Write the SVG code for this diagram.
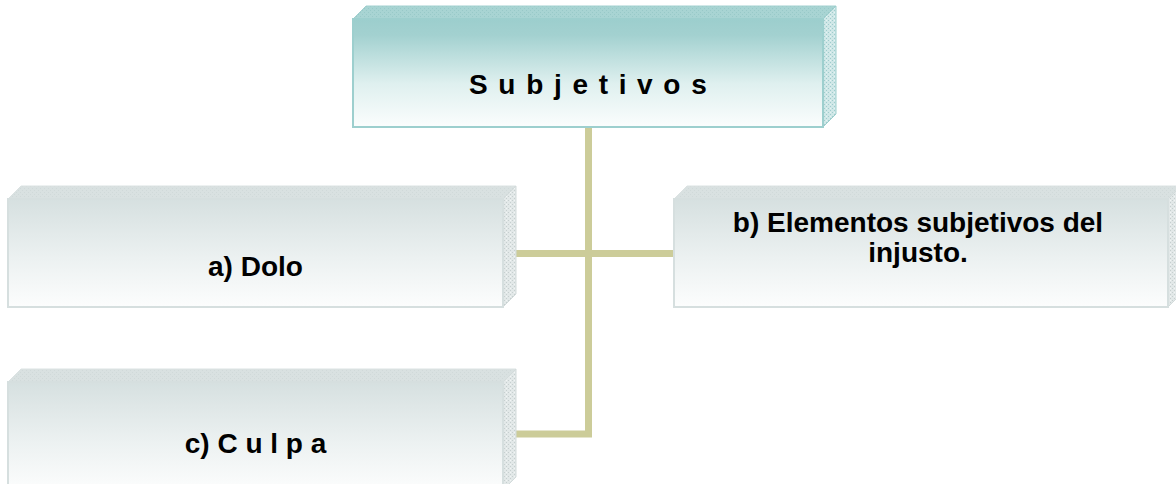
<svg xmlns="http://www.w3.org/2000/svg" width="1176" height="484" viewBox="0 0 1176 484">
  <defs>
    <linearGradient id="gTeal" x1="0" y1="0" x2="0" y2="1">
      <stop offset="0" stop-color="#9ccecd"/>
      <stop offset="0.15" stop-color="#a3d1d0"/>
      <stop offset="0.6" stop-color="#dff0ef"/>
      <stop offset="1" stop-color="#fbfdfd"/>
    </linearGradient>
    <linearGradient id="gGray" x1="0" y1="0" x2="0" y2="1">
      <stop offset="0" stop-color="#d6e0e0"/>
      <stop offset="0.55" stop-color="#ecf1f1"/>
      <stop offset="1" stop-color="#fcfdfd"/>
    </linearGradient>
    <pattern id="pTeal" width="4" height="4" patternUnits="userSpaceOnUse">
      <rect width="4" height="4" fill="#cfe7e7"/>
      <rect x="0" y="0" width="1" height="1" fill="#9fcccc"/>
      <rect x="2" y="2" width="1" height="1" fill="#9fcccc"/>
      <rect x="2" y="0" width="1" height="1" fill="#e6f3f3"/>
    </pattern>
    <pattern id="pTealTop" width="4" height="4" patternUnits="userSpaceOnUse">
      <rect width="4" height="4" fill="#a8d4d3"/>
      <rect x="0" y="0" width="1" height="1" fill="#98c9c8"/>
      <rect x="2" y="2" width="1" height="1" fill="#98c9c8"/>
    </pattern>
    <pattern id="pGray" width="4" height="4" patternUnits="userSpaceOnUse">
      <rect width="4" height="4" fill="#e2e8e8"/>
      <rect x="0" y="0" width="1" height="1" fill="#c6cfcf"/>
      <rect x="2" y="2" width="1" height="1" fill="#c6cfcf"/>
      <rect x="2" y="0" width="1" height="1" fill="#f2f5f5"/>
    </pattern>
    <pattern id="pGrayTop" width="4" height="4" patternUnits="userSpaceOnUse">
      <rect width="4" height="4" fill="#d9e1e1"/>
      <rect x="0" y="0" width="1" height="1" fill="#d0d9d9"/>
      <rect x="2" y="2" width="1" height="1" fill="#d0d9d9"/>
    </pattern>
  </defs>
  <style>
    .frontT { fill: url(#gTeal); stroke: #9dcfce; stroke-width: 2; }
    .topT { fill: url(#pTealTop); stroke: #a3d1d0; stroke-width: 1; }
    .sideT { fill: url(#pTeal); stroke: #9dcfce; stroke-width: 1; }
    .frontG { fill: url(#gGray); stroke: #d6dfdf; stroke-width: 2; }
    .topG { fill: url(#pGrayTop); stroke: #dbe2e2; stroke-width: 1; }
    .sideG { fill: url(#pGray); stroke: #d3dbdb; stroke-width: 1; }
    .lbl { font-family: "Liberation Sans", Arial, sans-serif; font-weight: bold; font-size: 28px; fill: #000; }
    .conn { fill: none; stroke: #cccc99; stroke-width: 7; }
  </style>

  <g id="connectors">
    <path class="conn" d="M588.5,127 V434 H516"/>
    <path class="conn" d="M516,253.5 H674"/>
  </g>

  <g id="node-subjetivos">
    <polygon class="topT" points="353,19 366,6 836,6 823,19"/>
    <polygon class="sideT" points="823,19 836,6 836,114 823,127"/>
    <rect class="frontT" x="353" y="19" width="470" height="108"/>
    <text class="lbl" x="469" y="94" letter-spacing="1.45">S u b j e t i v o s</text>
  </g>

  <g id="node-dolo">
    <polygon class="topG" points="8,199 21,186 516,186 503,199"/>
    <polygon class="sideG" points="503,199 516,186 516,294 503,307"/>
    <rect class="frontG" x="8" y="199" width="495" height="108"/>
    <text class="lbl" x="255.5" y="276" text-anchor="middle">a) Dolo</text>
  </g>

  <g id="node-elementos">
    <polygon class="topG" points="674,199 687,186 1181,186 1168,199"/>
    <polygon class="sideG" points="1168,199 1181,186 1181,294 1168,307"/>
    <rect class="frontG" x="674" y="199" width="494" height="108"/>
    <text class="lbl" text-anchor="middle"><tspan x="918" y="232">b) Elementos subjetivos del</tspan><tspan x="918" y="262">injusto.</tspan></text>
  </g>

  <g id="node-culpa">
    <polygon class="topG" points="8,382 21,369 516,369 503,382"/>
    <polygon class="sideG" points="503,382 516,369 516,477 503,490"/>
    <rect class="frontG" x="8" y="382" width="495" height="108"/>
    <text class="lbl" x="255.5" y="453" text-anchor="middle">c) C u l p a</text>
  </g>
</svg>
